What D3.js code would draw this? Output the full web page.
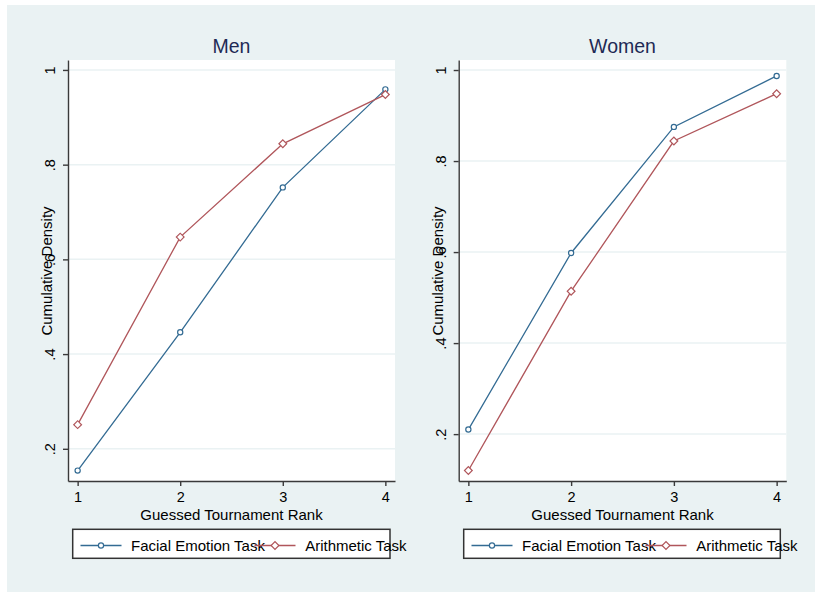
<!DOCTYPE html>
<html>
<head>
<meta charset="utf-8">
<script src="https://cdn.jsdelivr.net/npm/d3@7"></script>
<style>
  body { margin: 0; background: #fff; }
  svg { display: block; font-family: "Liberation Sans", Arial, sans-serif; }
</style>
</head>
<body>
<svg width="817" height="592"></svg>
<script>
// values
var ranks = [1, 2, 3, 4];
var menFacial = [0.154, 0.446, 0.752, 0.959];
var menArith = [0.251, 0.647, 0.844, 0.948];
var womenFacial = [0.210, 0.598, 0.875, 0.987];
var womenArith = [0.120, 0.514, 0.844, 0.948];
var yTicks = [0.2, 0.4, 0.6, 0.8, 1];
var yTickLabels = [".2", ".4", ".6", ".8", "1"];
var seriesNames = ["Facial Emotion Task", "Arithmetic Task"];
var panelTitles = ["Men", "Women"];

var colors = ["#336b93", "#b0565b"];
var svg = d3.select("svg");

// graph region
svg.append("rect")
    .attr("x", 7).attr("y", 5)
    .attr("width", 808).attr("height", 587)
    .attr("fill", "#eaf2f3");

var panels = [
    { title: panelTitles[0], left: 68, right: 395, ydom: [0.132, 1.021], series: [menFacial, menArith], legendLeft: 72.7, legendRight: 390 },
    { title: panelTitles[1], left: 458.7, right: 786.3, ydom: [0.097, 1.022], series: [womenFacial, womenArith], legendLeft: 463.7, legendRight: 780.3 }
];
var plotTop = 60, plotBottom = 481;

panels.forEach(function(p) {
    var g = svg.append("g");

    var x = d3.scaleLinear().domain([0.906, 4.094]).range([p.left, p.right]);
    var y = d3.scaleLinear().domain(p.ydom).range([plotBottom, plotTop]);

    g.append("rect")
        .attr("x", p.left).attr("y", plotTop)
        .attr("width", p.right - p.left).attr("height", plotBottom - plotTop)
        .attr("fill", "#fff");

    // grid
    g.selectAll(".grid").data(yTicks).enter().append("line")
        .attr("x1", p.left).attr("x2", p.right)
        .attr("y1", d => y(d)).attr("y2", d => y(d))
        .attr("stroke", "#eaf2f3").attr("stroke-width", 1.5);

    // axes
    var ya = g.append("g")
        .attr("transform", "translate(" + p.left + ",0)")
        .call(d3.axisLeft(y).tickValues(yTicks)
            .tickFormat((d, i) => yTickLabels[i])
            .tickSize(5).tickSizeOuter(0));
    ya.selectAll("text")
        .attr("transform", "rotate(-90)")
        .attr("x", 0).attr("y", -13).attr("dy", 0)
        .attr("text-anchor", "middle");

    var xa = g.append("g")
        .attr("transform", "translate(0," + plotBottom + ")")
        .call(d3.axisBottom(x).tickValues(ranks)
            .tickFormat(d3.format("d"))
            .tickSize(5).tickSizeOuter(0));
    xa.selectAll("text").attr("y", 20.5).attr("dy", 0);

    [ya, xa].forEach(function(a) {
        a.selectAll("text").attr("font-size", 14.5).attr("fill", "#000")
            .attr("font-family", "Liberation Sans, Arial, sans-serif");
        a.selectAll("path, line").attr("stroke", "#3a3a3a").attr("stroke-width", 1.4);
    });

    // titles
    g.append("text")
        .attr("x", (p.left + p.right) / 2).attr("y", 53)
        .attr("text-anchor", "middle")
        .attr("font-size", 19.5).attr("fill", "#1e2a55")
        .text(p.title);

    g.append("text")
        .attr("x", (p.left + p.right) / 2).attr("y", 520)
        .attr("text-anchor", "middle")
        .attr("font-size", 15)
        .text("Guessed Tournament Rank");

    g.append("text")
        .attr("transform", "translate(" + (p.left - 16) + "," + 271 + ") rotate(-90)")
        .attr("text-anchor", "middle")
        .attr("font-size", 15)
        .text("Cumulative Density");

    // series
    var line = d3.line().x((d, i) => x(ranks[i])).y(d => y(d));
    p.series.forEach(function(vals, s) {
        g.append("path")
            .datum(vals)
            .attr("d", line)
            .attr("fill", "none")
            .attr("stroke", colors[s]).attr("stroke-width", 1.3);
        drawMarkers(g, s, vals.map((v, i) => [x(ranks[i]), y(v)]));
    });

    // legend
    var lg = g.append("g");
    lg.append("rect")
        .attr("x", p.legendLeft).attr("y", 529.3)
        .attr("width", p.legendRight - p.legendLeft).attr("height", 29)
        .attr("fill", "#fff").attr("stroke", "#333").attr("stroke-width", 1.5);
    var keyOff = [28.3, 202.3], textOff = [58.3, 232.5];
    seriesNames.forEach(function(name, s) {
        lg.append("text")
            .attr("x", p.legendLeft + textOff[s]).attr("y", 551)
            .attr("font-size", 15)
            .text(name);
    });
    seriesNames.forEach(function(name, s) {
        var cx = p.legendLeft + keyOff[s];
        lg.append("line")
            .attr("x1", cx - 20.5).attr("x2", cx + 20.5)
            .attr("y1", 545.5).attr("y2", 545.5)
            .attr("stroke", colors[s]).attr("stroke-width", 1.3);
        drawMarkers(lg, s, [[cx, 545.5]]);
    });
});

function drawMarkers(g, s, pts) {
    if (s === 0) {
        g.selectAll(null).data(pts).enter().append("circle")
            .attr("cx", d => d[0]).attr("cy", d => d[1])
            .attr("r", 2.6)
            .attr("fill", "#fff")
            .attr("stroke", colors[s]).attr("stroke-width", 1.2);
    } else {
        var sym = d3.symbol().type(d3.symbolSquare).size(30);
        g.selectAll(null).data(pts).enter().append("path")
            .attr("d", sym)
            .attr("transform", d => "translate(" + d[0] + "," + d[1] + ") rotate(45)")
            .attr("fill", "#fff")
            .attr("stroke", colors[s]).attr("stroke-width", 1.2);
    }
}
</script>
</body>
</html>
